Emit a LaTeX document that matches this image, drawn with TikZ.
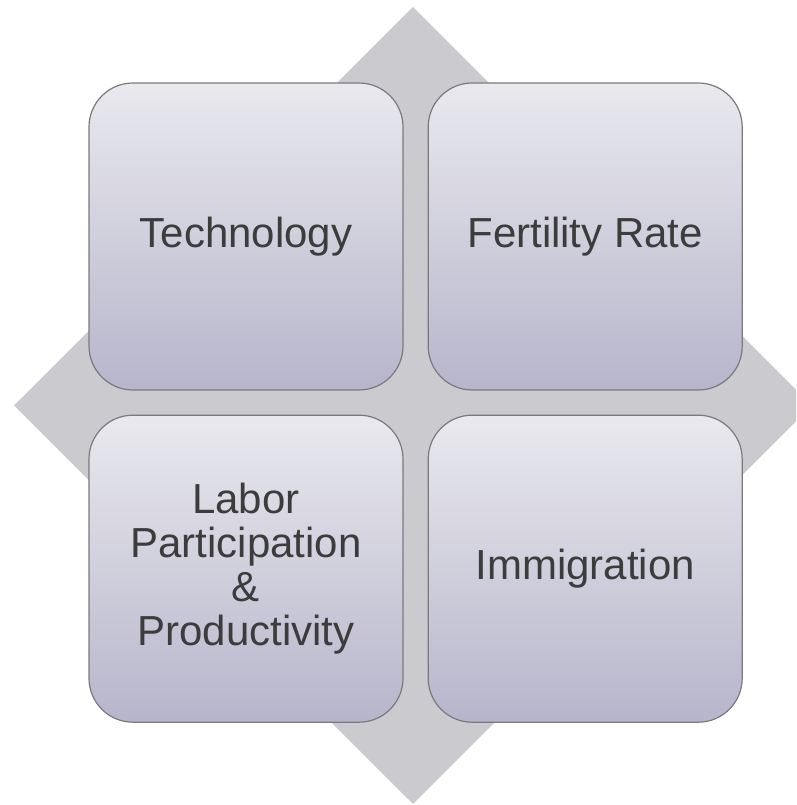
\documentclass[tikz,border=0pt]{standalone}
\usepackage{fontspec}
\setmainfont{Liberation Sans}
\usetikzlibrary{positioning}

\definecolor{diamondgray}{HTML}{CBCBCF}
\definecolor{boxtop}{HTML}{E9E9EE}
\definecolor{boxbottom}{HTML}{B7B5CB}
\definecolor{boxline}{HTML}{7A7A7E}
\definecolor{labeltext}{HTML}{3C3C3C}

\begin{document}
\begin{tikzpicture}[
    x=1pt, y=1pt,
    node distance=24pt,
    box/.style={draw=boxline, line width=1.2pt, rounded corners=44pt,
        top color=boxtop, bottom color=boxbottom,
        minimum width=314pt, minimum height=307pt, align=center,
        text=labeltext, font=\fontsize{42}{44}\selectfont}
]
\useasboundingbox (0,0) rectangle (796,805);
\clip (0,0) rectangle (796,805);

% background diamond
\fill[diamondgray] (413,798) -- (812,399.5) -- (413,1) -- (14,399.5) -- cycle;

\node (tech) [box] at (246,568.5) {Technology};
\node (fert) [box, right=of tech] {Fertility Rate};
\node (labor) [box, below=of tech] {Labor\\Participation\\\&\\Productivity};
\node (immig) [box, below=of fert] {Immigration};

\end{tikzpicture}
\end{document}
